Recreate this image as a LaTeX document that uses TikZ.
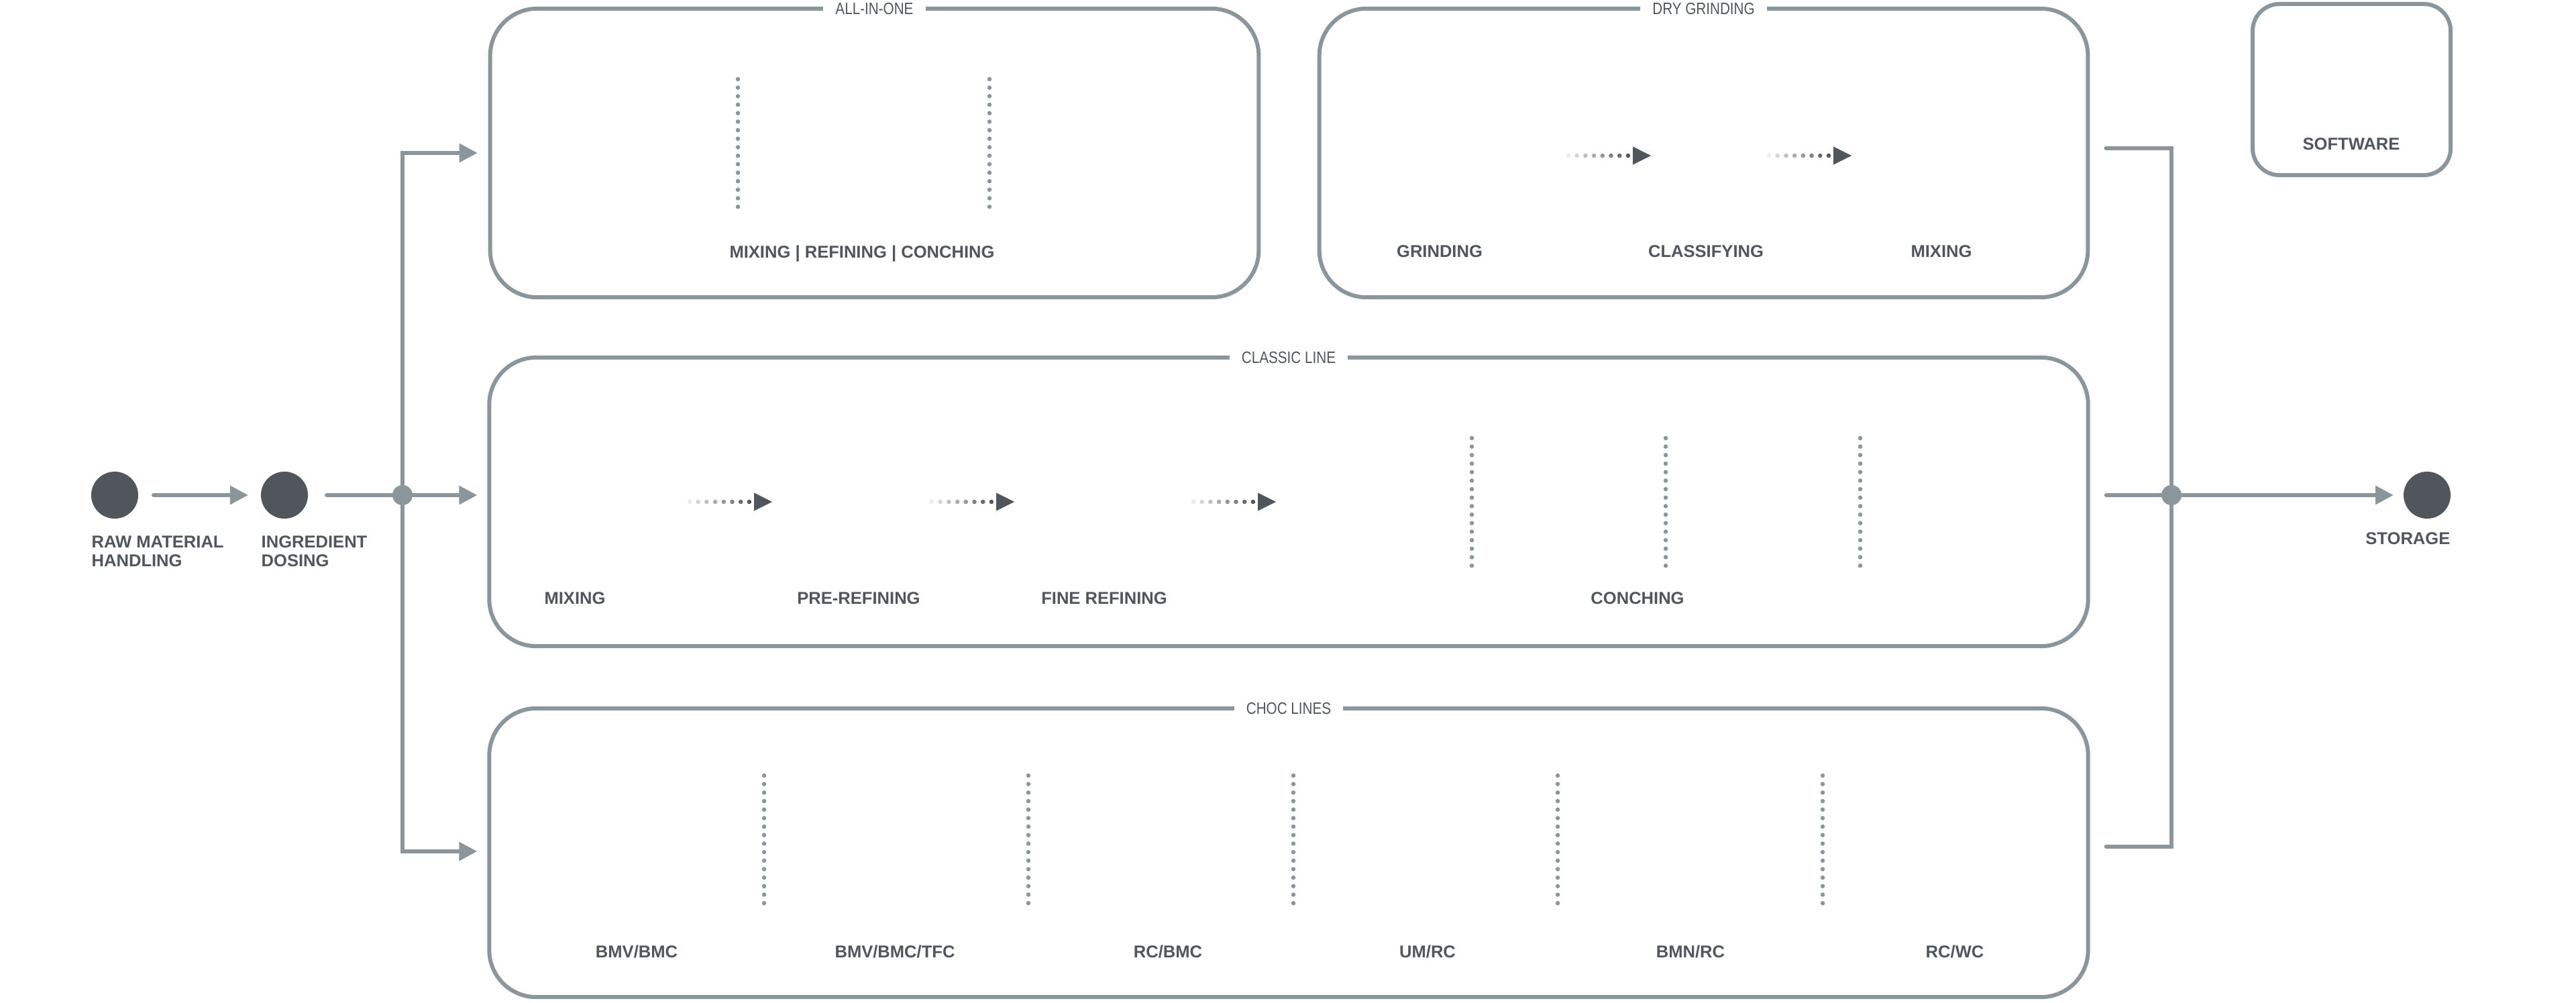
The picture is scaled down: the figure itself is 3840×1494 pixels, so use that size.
\documentclass[tikz,border=0pt]{standalone}
\usepackage{fontspec}
\setmainfont{Liberation Sans}
\newfontfamily\ttlfont[FakeStretch=0.84]{Liberation Sans}
\usetikzlibrary{arrows.meta}
\definecolor{linegray}{HTML}{8B959C}
\definecolor{inkgray}{HTML}{50565C}
\begin{document}
\begin{tikzpicture}[x=0.01cm, y=-0.01cm]
  \tikzstyle{box}=[draw=linegray, line width=0.06cm, rounded corners=0.7cm, minimum width=11.45cm, minimum height=4.3cm, inner sep=0, outer sep=0]
  \tikzstyle{wide}=[minimum width=23.82cm]
  \tikzstyle{ttl}=[fill=white, text=inkgray, font=\ttlfont\fontsize{7}{8}\selectfont, inner xsep=0.18cm, inner ysep=0.04cm, text height=5pt, text depth=0pt]
  \tikzstyle{lbl}=[text=inkgray, font=\bfseries\fontsize{7.27}{7.97}\selectfont, inner sep=0, anchor=base]
  \tikzstyle{stn}=[circle, fill=inkgray, minimum size=0.7cm, inner sep=0, outer sep=0]
  \tikzstyle{jdot}=[circle, fill=linegray, minimum size=0.3cm, inner sep=0, outer sep=0]
  \tikzstyle{bus}=[draw=linegray, line width=0.06cm, line cap=round]
  \tikzstyle{flow}=[bus, -{Triangle[length=0.27cm, width=0.27cm]}]
  \tikzstyle{dots}=[draw=linegray, line width=0.065cm, line cap=round, dash pattern=on 0pt off 0.1267cm]

  \useasboundingbox (0,0) rectangle (3840,1494);

  \node[box] (aio) at (1303.5,228) {};
  \node[box] (dry) at (2539.5,228) {};
  \node[box, wide] (cls) at (1921,748) {};
  \node[box, wide] (choc) at (1921,1271) {};
  \node[box, minimum width=2.95cm, minimum height=2.55cm, rounded corners=0.4cm] (soft) at (3505.5,133.5) {};

  \node[ttl] (aioTtl) at (aio.north) {ALL-IN-ONE};
  \node[ttl] (dryTtl) at (dry.north) {DRY GRINDING};
  \node[ttl] (clsTtl) at (cls.north) {CLASSIC LINE};
  \node[ttl] (chocTtl) at (choc.north) {CHOC LINES};

  \node[stn] (raw) at (171,738) {};
  \node[stn] (dose) at (424,738) {};
  \node[stn] (store) at (3618,738) {};
  \node[jdot] (jl) at (600,738) {};
  \node[jdot] (jr) at (3237,738) {};

  \node[lbl, anchor=north west, align=left] (rawLbl) at ([yshift=-0.25cm]raw.south -| raw.west) {RAW MATERIAL\\HANDLING};
  \node[lbl, anchor=north west, align=left] (doseLbl) at ([yshift=-0.25cm]dose.south -| dose.west) {INGREDIENT\\DOSING};
  \node[lbl, anchor=north east] (storeLbl) at ([yshift=-0.2cm]store.south -| store.east) {STORAGE};
  \node[lbl] (softLbl) at (3505,224) {SOFTWARE};

  \node[lbl] (aioLbl) at (1285,384) {MIXING | REFINING | CONCHING};
  \foreach \x/\t [count=\i] in {2146/GRINDING, 2543/CLASSIFYING, 2894/MIXING}
    \node[lbl] (dry\i) at (\x,383) {\t};
  \foreach \x/\t [count=\i] in {857/MIXING, 1280/PRE-REFINING, 1646/FINE REFINING, 2441/CONCHING}
    \node[lbl] (cls\i) at (\x,900) {\t};
  \foreach \x/\t [count=\i] in {949/{BMV/BMC}, 1334/{BMV/BMC/TFC}, 1741/{RC/BMC}, 2128/{UM/RC}, 2520/{BMN/RC}, 2914/{RC/WC}}
    \node[lbl] (choc\i) at (\x,1427) {\t};

  \foreach \x in {1100, 1475}
    \draw[dots] (\x,118) -- (\x,308.5);
  \foreach \x in {2194, 2483, 2773}
    \draw[dots] (\x,653) -- (\x,843.5);
  \foreach \x in {1139, 1533, 1928, 2322, 2717}
    \draw[dots] (\x,1156) -- (\x,1346.5);

  \foreach \x/\y in {2461/232, 2760/232, 1151/748, 1512/748, 1902/748}
  {
    \foreach \i [evaluate=\i as \p using int(12+\i*12.5)] in {0,...,7}
      \fill[inkgray!\p!white] (\x-123+\i*12.7,\y) circle (0.033cm);
    \fill[inkgray] (\x-27,\y-13.5) -- (\x,\y) -- (\x-27,\y+13.5) -- cycle;
  }

  \path (aio.west) ++(-19,0) coordinate (aioIn);
  \path (cls.west |- jl) ++(-18,0) coordinate (clsIn);
  \path (choc.west) ++(-18,-2) coordinate (chocIn);
  \path (dry.east) ++(27,-7) coordinate (dryOut);
  \path (cls.east |- jr) ++(27,0) coordinate (clsOut);
  \path (choc.east) ++(27,-9) coordinate (chocOut);

  \draw[flow, shorten <=0.23cm, shorten >=0.19cm] (raw) -- (dose);
  \draw[bus, shorten <=0.28cm] (dose) -- (jl);
  \draw[flow] (jl) |- (aioIn);
  \draw[flow] (jl) -- (clsIn);
  \draw[flow] (jl) |- (chocIn);
  \draw[bus] (dryOut) -| (jr);
  \draw[bus] (chocOut) -| (jr);
  \draw[bus] (clsOut) -- (jr);
  \draw[flow, shorten >=0.15cm] (jr) -- (store);
\end{tikzpicture}
\end{document}
